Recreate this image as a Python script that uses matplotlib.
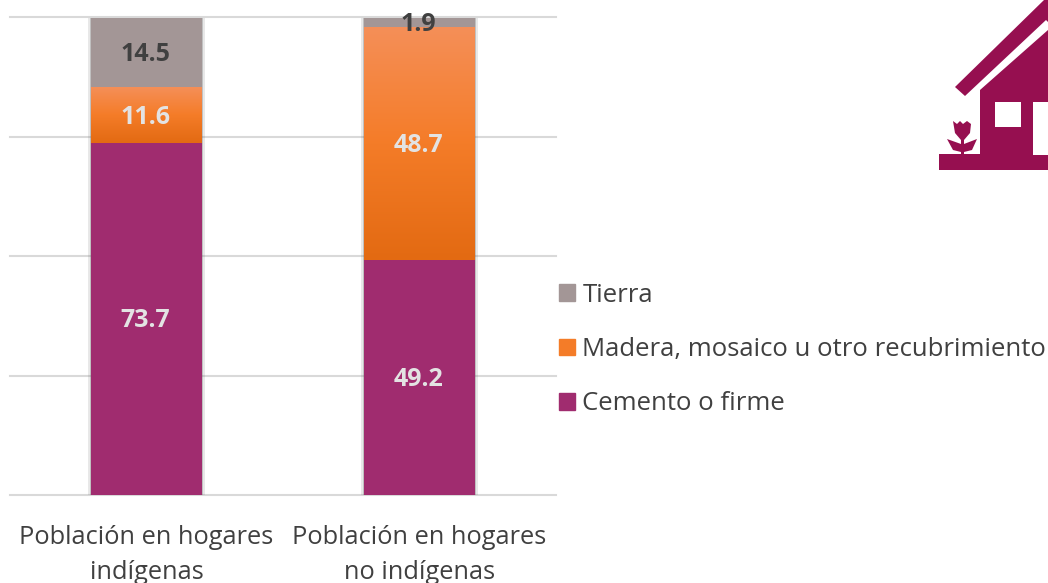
#Pisos de la vivienda, poblacion indigena y no indigena
import matplotlib
matplotlib.use('Agg')
import matplotlib.pyplot as plt
from matplotlib.colors import LinearSegmentedColormap
from matplotlib.patches import Polygon, Rectangle
import numpy as np

plt.rcParams['font.family'] = ['Open Sans', 'DejaVu Sans']

categories = ['Población en hogares\nindígenas', 'Población en hogares\nno indígenas']
cemento = [73.7, 49.2]
madera = [11.6, 48.7]
tierra = [14.5, 1.9]
legend_labels = ['Tierra', 'Madera, mosaico u otro recubrimiento', 'Cemento o firme']

purple = '#A02C6F'
orange = '#F47C28'
grey = '#A39696'
orange_ramp = ['#F58F58', '#F47C28', '#E36A12']

W, H = 1048, 583
fig = plt.figure(figsize=(W / 100, H / 100), dpi=100)
ax = fig.add_axes([10 / W, 1 - 495 / H, 546 / W, 478 / H])

x = np.arange(len(categories))
width = 0.405
cemento = np.array(cemento)
madera = np.array(madera)
tierra = np.array(tierra)
total = cemento + madera + tierra

# soft shadow down the sides of the bars
ax.bar(x, total, width + 0.026, color='#666666', alpha=0.15, zorder=2)
ax.bar(x, total, width + 0.012, color='#666666', alpha=0.3, zorder=2)

b1 = ax.bar(x, cemento, width, color=purple, zorder=3)
b2 = ax.bar(x, madera, width, bottom=cemento, color=orange, zorder=3)
b3 = ax.bar(x, tierra, width, bottom=cemento + madera, color=grey, zorder=3)

# gradient on the orange bars
cmap = LinearSegmentedColormap.from_list('naranja', orange_ramp)
for r in b2:
    im = ax.imshow(np.linspace(0, 1, 256).reshape(-1, 1), cmap=cmap, aspect='auto', zorder=3.1,
                   extent=[r.get_x(), r.get_x() + r.get_width(), r.get_y(), r.get_y() + r.get_height()])
    im.set_clip_path(r)

labels = []
labels += ax.bar_label(b1, fmt='%.1f', label_type='center', color='#E3E3E3', fontsize=18, fontweight='bold', zorder=5)
labels += ax.bar_label(b2, fmt='%.1f', label_type='center', color='#E3E3E3', fontsize=18, fontweight='bold', zorder=5)
labels += ax.bar_label(b3, fmt='%.1f', label_type='center', color='#404040', fontsize=18, fontweight='bold', zorder=5)
for t in labels:
    t.xyann = (-0.7, -1.5)

ax.set_xlim(-0.5, 1.5)
ax.set_ylim(0, 100)
ax.set_yticks([0, 25, 50, 75, 100])
ax.set_yticklabels([])
ax.set_xticks(x)
ax.set_xticklabels(categories, fontsize=18.3, color='#404040', linespacing=1.52)
ax.tick_params(length=0, pad=21.5)
ax.grid(axis='y', color='#D9D9D9', linewidth=1.5, zorder=0)
ax.set_axisbelow(True)
for s in ax.spines.values():
    s.set_visible(False)
for line in ax.get_ygridlines():
    line.set_clip_on(False)

handles = [Rectangle((0, 0), 1, 1, color=grey), Rectangle((0, 0), 1, 1, color=orange),
           Rectangle((0, 0), 1, 1, color=purple)]
fig.legend(handles, legend_labels, loc='center left', bbox_to_anchor=(551 / W, 1 - 349.5 / H), frameon=False,
           fontsize=18.55, labelcolor='#404040', handlelength=0.62, handleheight=0.62, handletextpad=0.3,
           labelspacing=1.14, borderpad=0, borderaxespad=0.3)

# house icon, pixel coordinates of the figure
icon = fig.add_axes([0, 0, 1, 1], zorder=6)
icon.set_xlim(0, W)
icon.set_ylim(H, 0)
icon.axis('off')
magenta = '#960F50'
icon.add_patch(Polygon([(955, 87), (965, 96), (1046, 20), (1048, 22), (1048, 0), (1044, 0)], color=magenta, lw=0))
icon.add_patch(Polygon([(980, 90), (1048, 30), (1048, 156), (980, 156)], color=magenta, lw=0))
icon.add_patch(Rectangle((939, 154), 110, 16, color=magenta, lw=0))
icon.add_patch(Rectangle((995, 102), 26, 25, color='white', lw=0))
icon.add_patch(Rectangle((1033, 102), 16, 53, color='white', lw=0))
icon.add_patch(Polygon([(953, 121), (957, 124), (960, 121), (963, 124), (967, 121), (971, 124), (970, 133),
                        (964, 140), (964, 144), (977, 139), (972, 150), (964, 152), (964, 155), (961, 155),
                        (961, 152), (953, 150), (947, 139), (961, 144), (961, 140), (955, 133)],
                       color=magenta, lw=0))

fig.savefig('out.png', dpi=100)
